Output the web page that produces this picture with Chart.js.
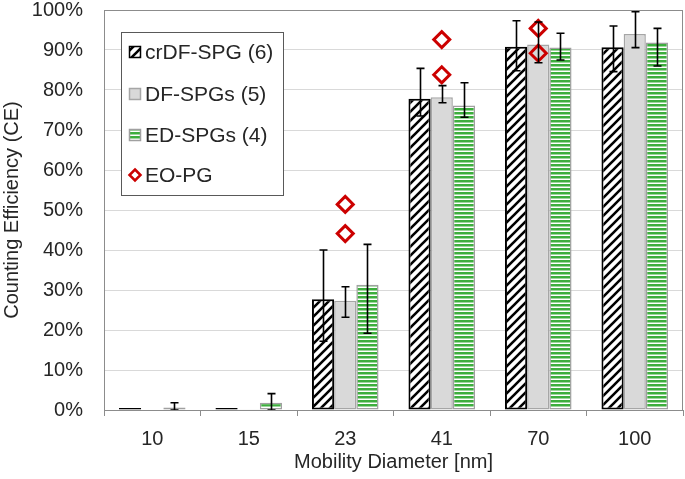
<!DOCTYPE html>
<html lang="en">
<head>
<meta charset="UTF-8">
<title>Counting Efficiency</title>
<script src="https://cdn.jsdelivr.net/npm/chart.js"></script>
<style>
  html, body { margin: 0; padding: 0; background: #fff; }
  canvas { display: block; }
</style>
</head>
<body>
<canvas id="ceChart" width="685" height="479"></canvas>
<script>
// categories (mobility diameter, nm)
const diameters = ['10', '15', '23', '41', '70', '100'];

// bar values in % with error bar ends
const crdfValues = [0.5, 0.5, 27.7, 77.8, 90.8, 90.7];
const crdfHigh   = [null, null, 40.0, 85.4, 97.3, 96.0];
const crdfLow    = [null, null, 17.2, 73.5, 84.8, 84.6];

const dfValues = [0, 0.2, 27.3, 78.2, 91.4, 94.0];
const dfHigh   = [null, null, 30.8, 81.1, 97.0, 99.6];
const dfLow    = [null, null, 23.2, 76.8, 86.8, 90.6];

const edValues = [0.6, 1.8, 31.3, 76.1, 90.6, 91.9];
const edHigh   = [1.8, 4.1, 41.4, 81.8, 94.2, 95.4];
const edLow    = [0, 0, 19.2, 73.2, 87.5, 86.0];

// EO-PG single points
const eoX = ['23', '23', '41', '41', '70', '70'];
const eoY = [51.4, 44.1, 92.6, 83.8, 95.4, 89.2];

const yTicks = [0, 10, 20, 30, 40, 50, 60, 70, 80, 90, 100];

const FONT = "'Liberation Sans', Arial, sans-serif";
const TEXT = '#262626';
Chart.defaults.font.family = FONT;
Chart.defaults.color = TEXT;

function hatchPattern() {
    const c = document.createElement('canvas');
    c.width = 9; c.height = 9;
    const g = c.getContext('2d');
    g.fillStyle = '#fff';
    g.fillRect(0, 0, 9, 9);
    g.strokeStyle = '#000';
    g.lineWidth = 2.6;
    g.beginPath();
    g.moveTo(-1, 10); g.lineTo(10, -1);
    g.moveTo(-1, 1); g.lineTo(1, -1);
    g.moveTo(8, 10); g.lineTo(10, 8);
    g.stroke();
    return g.createPattern(c, 'repeat');
}

function stripePattern() {
    const c = document.createElement('canvas');
    c.width = 4; c.height = 4;
    const g = c.getContext('2d');
    g.fillStyle = '#fff';
    g.fillRect(0, 0, 4, 4);
    g.fillStyle = '#3dae3d';
    g.fillRect(0, 0, 4, 2.5);
    return g.createPattern(c, 'repeat');
}

const hatch = hatchPattern();
const stripes = stripePattern();

const errorSets = [
    { hi: crdfHigh, lo: crdfLow },
    { hi: dfHigh, lo: dfLow },
    { hi: edHigh, lo: edLow }
];

// error bars drawn on top of bars and markers
const errorBars = {
    id: 'errorBars',
    afterDatasetsDraw(chart) {
        const ctx = chart.ctx;
        const y = chart.scales.y;
        ctx.save();
        ctx.strokeStyle = '#000';
        ctx.lineWidth = 1.6;
        errorSets.forEach((set, i) => {
            chart.getDatasetMeta(i).data.forEach((bar, j) => {
                if (set.hi[j] == null) return;
                const yh = y.getPixelForValue(set.hi[j]);
                const yl = y.getPixelForValue(set.lo[j]);
                const x = Math.round(bar.x) + 0.5;
                ctx.beginPath();
                ctx.moveTo(x, yh); ctx.lineTo(x, yl);
                ctx.moveTo(x - 4, yh); ctx.lineTo(x + 4, yh);
                ctx.moveTo(x - 4, yl); ctx.lineTo(x + 4, yl);
                ctx.stroke();
            });
        });
        ctx.restore();
    }
};

const frame = {
    id: 'frame',
    afterDraw(chart) {
        const { ctx, chartArea: a } = chart;
        ctx.save();
        ctx.strokeStyle = '#8c8c8c';
        ctx.lineWidth = 1;
        ctx.strokeRect(Math.round(a.left) + 0.5, Math.round(a.top) + 0.5,
            Math.round(a.right - a.left) - 1, Math.round(a.bottom - a.top));
        ctx.restore();
    }
};

// boxed legend inside the plot, upper left
const boxLegend = {
    id: 'boxLegend',
    afterDraw(chart) {
        const ctx = chart.ctx;
        const bx = 121.5, by = 32.5, bw = 162, bh = 163;
        ctx.save();
        ctx.fillStyle = '#fff';
        ctx.fillRect(bx, by, bw, bh);
        ctx.strokeStyle = '#595959';
        ctx.lineWidth = 1;
        ctx.strokeRect(bx, by, bw, bh);
        const rows = [52, 94, 135, 175];
        ctx.font = '21px ' + FONT;
        ctx.textBaseline = 'middle';
        ctx.textAlign = 'left';
        chart.data.datasets.forEach((ds, i) => {
            const cy = rows[i];
            if (ds.type === 'scatter') {
                ctx.beginPath();
                ctx.moveTo(135, cy - 5.5); ctx.lineTo(140.5, cy);
                ctx.lineTo(135, cy + 5.5); ctx.lineTo(129.5, cy);
                ctx.closePath();
                ctx.strokeStyle = ds.borderColor;
                ctx.lineWidth = 2.5;
                ctx.stroke();
            } else {
                ctx.fillStyle = ds.backgroundColor;
                ctx.fillRect(129, cy - 6, 12, 12);
                ctx.strokeStyle = ds.borderColor;
                ctx.lineWidth = 1.5;
                ctx.strokeRect(129.5, cy - 5.5, 11, 11);
            }
            ctx.fillStyle = TEXT;
            ctx.fillText(ds.label, 145, cy + 1);
        });
        ctx.restore();
    }
};

new Chart(document.getElementById('ceChart'), {
    type: 'bar',
    data: {
        labels: diameters,
        datasets: [
            {
                label: 'crDF-SPG (6)',
                data: crdfValues,
                backgroundColor: hatch,
                borderColor: '#000',
                borderWidth: 2,
                borderSkipped: false
            },
            {
                label: 'DF-SPGs (5)',
                data: dfValues,
                backgroundColor: '#d9d9d9',
                borderColor: '#a6a6a6',
                borderWidth: 1.5,
                borderSkipped: false
            },
            {
                label: 'ED-SPGs (4)',
                data: edValues,
                backgroundColor: stripes,
                borderColor: '#a0a0a0',
                borderWidth: 1.5,
                borderSkipped: false
            },
            {
                type: 'scatter',
                label: 'EO-PG',
                data: eoX.map((x, i) => ({ x: x, y: eoY[i] })),
                pointStyle: 'rectRot',
                pointRadius: 8,
                pointBorderWidth: 3,
                borderColor: '#cc0000',
                backgroundColor: 'rgba(0,0,0,0)',
                showLine: false,
                order: -1
            }
        ]
    },
    options: {
        responsive: false,
        animation: false,
        layout: { autoPadding: false, padding: { top: 10, right: 2, left: 0, bottom: 0 } },
        datasets: {
            bar: { categoryPercentage: 0.69, barPercentage: 1.0 }
        },
        plugins: {
            legend: { display: false },
            tooltip: { enabled: false }
        },
        scales: {
            x: {
                type: 'category',
                offset: true,
                afterFit: s => { s.height = 69; s.paddingLeft = 0; s.paddingRight = 0; },
                grid: {
                    offset: true,
                    drawOnChartArea: false,
                    tickLength: 6,
                    color: '#8c8c8c'
                },
                border: { color: '#8c8c8c' },
                ticks: { font: { size: 20 }, color: TEXT, padding: 11 },
                title: {
                    display: true,
                    text: 'Mobility Diameter [nm]',
                    font: { size: 20 },
                    color: TEXT,
                    padding: { top: 0, bottom: 5 }
                }
            },
            y: {
                min: 0,
                max: 100,
                afterFit: s => { s.width = 104; s.paddingTop = 0; s.paddingBottom = 0; },
                afterBuildTicks: s => { s.ticks = yTicks.map(v => ({ value: v })); },
                grid: { color: '#d9d9d9', drawTicks: false },
                border: { color: '#8c8c8c' },
                ticks: {
                    font: { size: 20 },
                    color: TEXT,
                    padding: 21,
                    callback: v => v + '%'
                },
                title: {
                    display: true,
                    text: 'Counting Efficiency (CE)',
                    font: { size: 20 },
                    color: TEXT,
                    padding: { top: 0, bottom: 0 }
                }
            }
        }
    },
    plugins: [frame, errorBars, boxLegend]
});
</script>
</body>
</html>
